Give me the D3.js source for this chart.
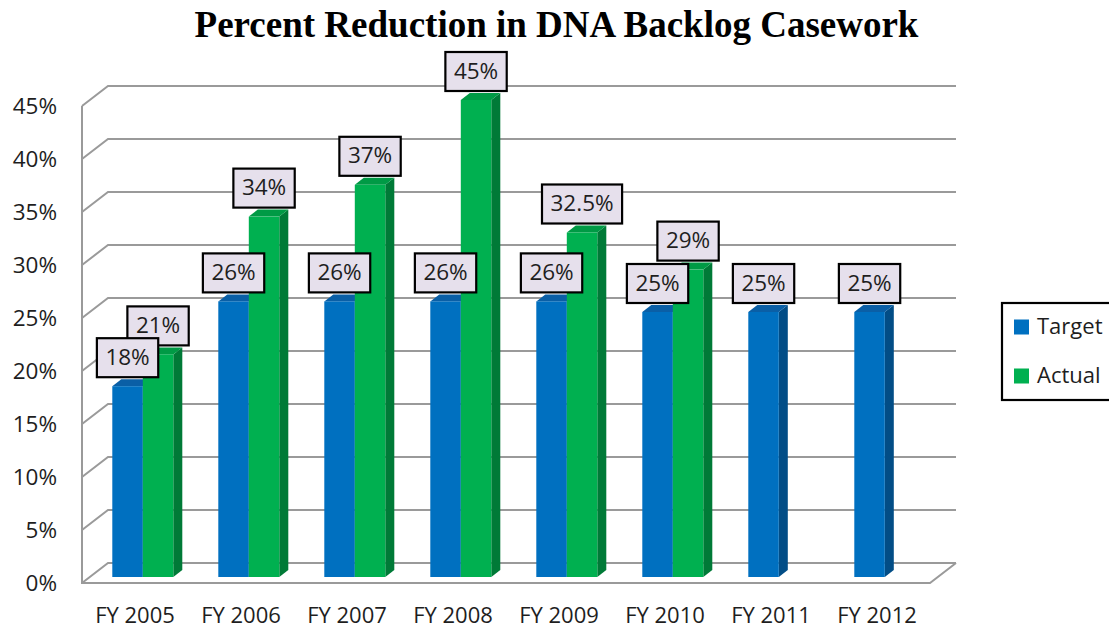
<!DOCTYPE html>
<html>
<head>
<meta charset="utf-8">
<script src="https://cdn.jsdelivr.net/npm/d3@7"></script>
<style>
  html, body { margin: 0; padding: 0; background: #fff; }
  svg { display: block; }
</style>
</head>
<body>
<svg id="chart" width="1109" height="628"></svg>
<script>
const categories = ["FY 2005", "FY 2006", "FY 2007", "FY 2008", "FY 2009", "FY 2010", "FY 2011", "FY 2012"];
const seriesNames = ["Target", "Actual"];
const targetValues = [18, 26, 26, 26, 26, 25, 25, 25];
const actualValues = [21, 34, 37, 45, 32.5, 29, null, null];
const yTicks = [0, 5, 10, 15, 20, 25, 30, 35, 40, 45];

const colors = {
  Target: { front: "#0070c0", top: "#0a5fa6", side: "#024d86" },
  Actual: { front: "#00b050", top: "#009a45", side: "#007a37" }
};

const svg = d3.select("#chart");
const font = "'Open Sans', sans-serif";

// box geometry: front floor / back wall
const frontLeft = 82, frontRight = 930;
const depthX = 26, depthY = -20;
const floorFront = 583;
const step = 53; // px per 5%

// y for the back wall
const yBack = d3.scaleLinear().domain([0, 45]).range([floorFront + depthY, floorFront + depthY - 9 * step]);
// y for the front edge (tick labels)
const yFront = d3.scaleLinear().domain([0, 45]).range([floorFront, floorFront - 9 * step]);
// bars stand a bit inside the floor
const barDepth = 0.3;
const yBar = d3.scaleLinear().domain([0, 45]).range([floorFront + depthY * barDepth, floorFront + depthY * barDepth - 9 * step]);

const x0 = d3.scaleBand().domain(categories).range([frontLeft, frontRight]);
const pairW = 61;
const x1 = d3.scaleBand().domain(seriesNames).range([0, pairW]);

// title
svg.append("text")
  .attr("x", 556.5).attr("y", 37)
  .attr("text-anchor", "middle")
  .attr("font-family", "'Liberation Serif', 'Times New Roman', serif")
  .attr("font-weight", "bold")
  .attr("font-size", 37)
  .text("Percent Reduction in DNA Backlog Casework");

// walls and gridlines
const grid = svg.append("g").attr("stroke", "#9a9a9a").attr("stroke-width", 2).attr("fill", "none");
yTicks.forEach(t => {
  const yb = yBack(t);
  grid.append("path")
    .attr("d", `M${frontLeft},${yb - depthY}L${frontLeft + depthX},${yb}L${frontRight + depthX},${yb}`);
});
grid.append("path")
  .attr("d", `M${frontLeft},${yFront(45)}L${frontLeft},${floorFront}L${frontRight},${floorFront}L${frontRight + depthX},${floorFront + depthY}`);

// y tick labels
svg.append("g").selectAll("text").data(yTicks).join("text")
  .attr("x", 57)
  .attr("y", d => yFront(d) + 2)
  .attr("text-anchor", "end")
  .attr("dominant-baseline", "middle")
  .attr("font-family", font).attr("font-size", 22.5).attr("fill", "#1e1e1e")
  .text(d => d + "%");

// category labels
svg.append("g").selectAll("text").data(categories).join("text")
  .attr("x", d => x0(d) + x0.bandwidth() / 2)
  .attr("y", 617)
  .attr("text-anchor", "middle")
  .attr("dominant-baseline", "middle")
  .attr("font-family", font).attr("font-size", 22).attr("fill", "#1e1e1e")
  .text(d => d);

// bars
const bdx = 9, bdy = -7;
const barOffset = (x0.bandwidth() - pairW) / 2 + depthX * barDepth;
const bars = [];
categories.forEach((c, i) => {
  [["Target", targetValues[i]], ["Actual", actualValues[i]]].forEach(([s, v]) => {
    if (v == null) return;
    bars.push({ cat: c, series: s, value: v });
  });
});

const barG = svg.append("g");
bars.forEach(b => {
  const xl = x0(b.cat) + barOffset + x1(b.series);
  const w = x1.bandwidth();
  const yt = yBar(b.value), yb = yBar(0);
  const col = colors[b.series];
  const g = barG.append("g");
  g.append("path").attr("fill", col.side)
    .attr("d", `M${xl + w},${yt}L${xl + w + bdx},${yt + bdy}L${xl + w + bdx},${yb + bdy}L${xl + w},${yb}Z`);
  g.append("path").attr("fill", col.top)
    .attr("d", `M${xl},${yt}L${xl + bdx},${yt + bdy}L${xl + w + bdx},${yt + bdy}L${xl + w},${yt}Z`);
  g.append("rect").attr("fill", col.front)
    .attr("x", xl).attr("y", yt).attr("width", w).attr("height", yb - yt);
  b.cx = xl + w / 2;
  b.top = yt;
});

// data labels (actual first so target boxes sit on top)
const labelG = svg.append("g");
const ordered = bars.filter(b => b.series === "Actual").concat(bars.filter(b => b.series === "Target"));
ordered.forEach(b => {
  const g = labelG.append("g");
  const boxBottom = b.top - 9;
  const h = 39;
  const rect = g.append("rect")
    .attr("fill", "#e6e0ec").attr("stroke", "#000").attr("stroke-width", 2.2);
  const txt = g.append("text")
    .attr("x", b.cx).attr("y", boxBottom - h / 2 + 1)
    .attr("text-anchor", "middle").attr("dominant-baseline", "middle")
    .attr("font-family", font).attr("font-size", 22.5).attr("fill", "#1e1e1e")
    .text(b.value + "%");
  const tw = txt.node().getComputedTextLength();
  const w = tw + 17;
  rect.attr("x", b.cx - w / 2).attr("y", boxBottom - h).attr("width", w).attr("height", h);
});

// legend
const legend = svg.append("g");
legend.append("rect")
  .attr("x", 1002).attr("y", 303).attr("width", 130).attr("height", 97)
  .attr("fill", "#fff").attr("stroke", "#000").attr("stroke-width", 2.2);
seriesNames.forEach((s, i) => {
  const cy = 327 + i * 49;
  legend.append("rect")
    .attr("x", 1014).attr("y", cy - 7.5).attr("width", 15).attr("height", 15)
    .attr("fill", colors[s].front);
  legend.append("text")
    .attr("x", 1037).attr("y", cy + 1)
    .attr("dominant-baseline", "middle")
    .attr("font-family", font).attr("font-size", 22).attr("fill", "#1e1e1e")
    .text(s);
});
</script>
</body>
</html>
